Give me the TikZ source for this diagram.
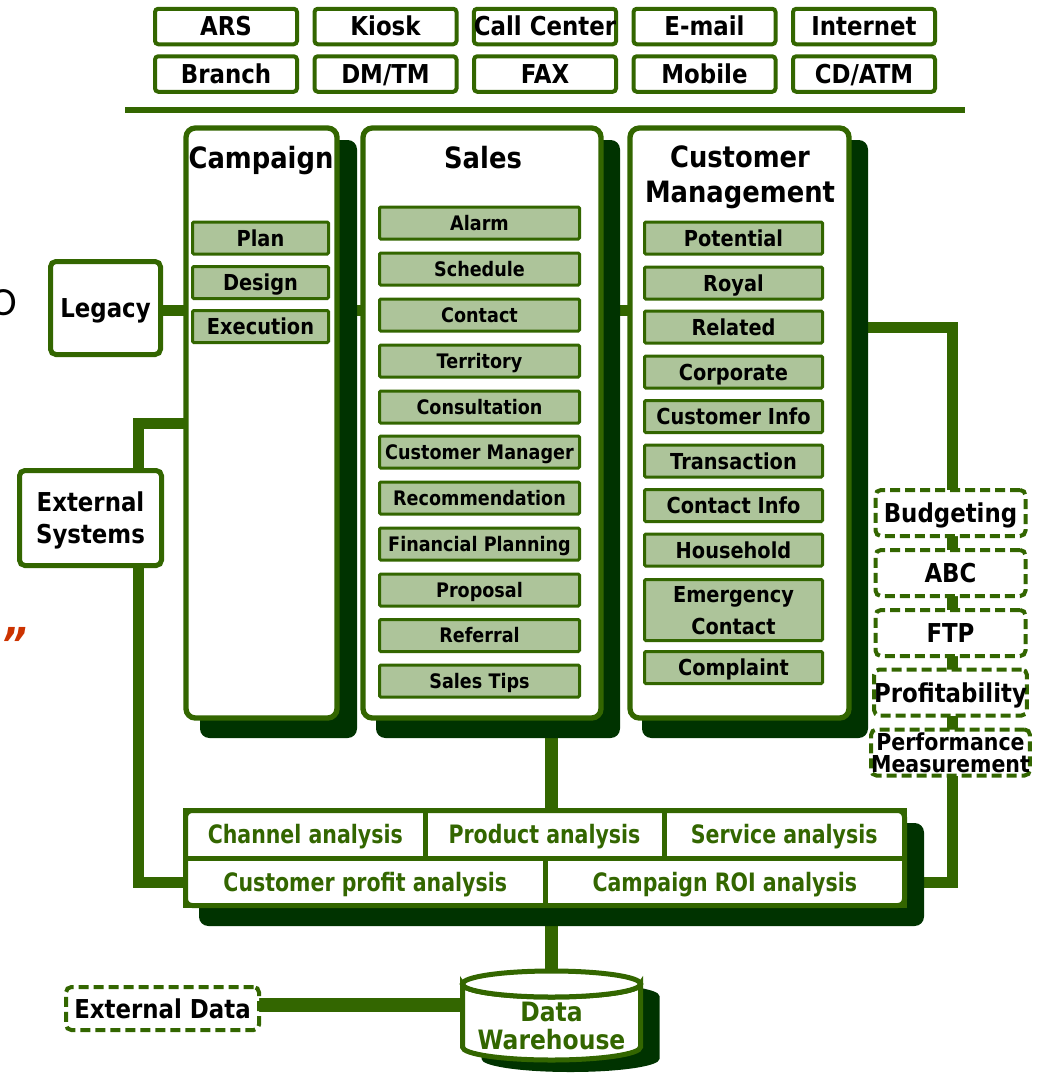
\documentclass[tikz,border=0pt]{standalone}
\usepackage{fontspec}
\setmainfont{DejaVu Sans}[FakeStretch=0.88]
\newfontfamily\anafont{DejaVu Sans}[FakeStretch=0.81]
\newfontfamily\calfont{Carlito}
\definecolor{gr}{HTML}{336600}
\definecolor{dk}{HTML}{003300}
\definecolor{lg}{HTML}{ADC49A}
\definecolor{orng}{HTML}{CC3300}
\pgfdeclarelayer{cn}
\pgfsetlayers{cn,main}
\begin{document}
\begin{tikzpicture}[x=0.75pt,y=-0.75pt,
  every node/.style={inner sep=0pt,outer sep=0pt},
  wh/.style 2 args={minimum width=#1*0.75pt,minimum height=#2*0.75pt},
  chan/.style={draw=gr,line width=3pt,rounded corners=2.5pt,fill=white,wh={142}{35.5},
    font=\bfseries\fontsize{19.5}{22}\selectfont,text height=14.2pt,text depth=0pt},
  col/.style={draw=gr,line width=4pt,rounded corners=7pt,fill=white},
  shad/.style={fill=dk,rounded corners=7pt},
  title/.style={anchor=base,font=\bfseries\fontsize{22}{26}\selectfont},
  item/.style={draw=gr,line width=2.25pt,fill=lg,rounded corners=1pt,text depth=0pt},
  sitem/.style={item,wh={200}{32},font=\bfseries\fontsize{15}{18}\selectfont,text height=10.9pt},
  citem/.style={item,wh={178}{32},font=\bfseries\fontsize{16.5}{19}\selectfont,text height=12pt},
  pitem/.style={item,wh={136}{32},font=\bfseries\fontsize{16.5}{19}\selectfont,text height=12pt},
  sys/.style={draw=gr,line width=3.75pt,rounded corners=4pt,fill=white,align=center,
    font=\bfseries\fontsize{19.5}{24}\selectfont,text depth=0pt},
  dbox/.style={draw=gr,line width=3pt,dash pattern=on 7.5pt off 3.75pt,rounded corners=4pt,
    fill=white,wh={150}{46},font=\bfseries\fontsize{19.5}{22}\selectfont,text depth=0pt,align=center},
  cell/.style={draw=gr,line width=3.75pt,fill=white,text=gr,
    font=\anafont\bfseries\fontsize{19}{22}\selectfont,text height=13.9pt,text depth=0pt},
  conn/.style={draw=gr,line width=8.25pt},
  tconn/.style={draw=gr,line width=10pt}
]
\useasboundingbox (0,0) rectangle (1039,1076);

% clipped fragments at the left edge
\node[anchor=east,font=\calfont\fontsize{30}{32}\selectfont,text height=19pt,text depth=0pt] (frO) at (17,302.5) {O};
\node[anchor=base,text=orng,font=\bfseries\itshape\fontsize{34}{38}\selectfont] (frQ) at (14,660) {”};

% channels
\node[chan] (ars) at (226,26.5) {ARS};
\node[chan] (kiosk) at (385.5,26.5) {Kiosk};
\node[chan] (call) at (545,26.5) {Call Center};
\node[chan] (email) at (704.5,26.5) {E-mail};
\node[chan] (inet) at (864,26.5) {Internet};
\node[chan] (branch) at (226,74) {Branch};
\node[chan] (dmtm) at (385.5,74) {DM/TM};
\node[chan] (fax) at (545,74) {FAX};
\node[chan] (mobile) at (704.5,74) {Mobile};
\node[chan] (cdatm) at (864,74) {CD/ATM};
\draw[gr,line width=4.5pt] (125,110) -- (965,110);

% column shadows and boxes
\node[shad,wh={157}{598}] (campsh) at (278.5,439) {};
\node[shad,wh={244}{598}] (salessh) at (498,439) {};
\node[shad,wh={226}{598}] (cmsh) at (755,439) {};
\node[col,wh={151}{590}] (camp) at (261.5,423) {};
\node[col,wh={238}{590}] (sales) at (482,423) {};
\node[col,wh={219}{590}] (cm) at (739.5,423) {};

\node[title] (tcamp) at (261,168) {Campaign};
\node[title] (tsales) at (483,168) {Sales};
\node[title] (tcm1) at (740,167) {Customer};
\node[title] (tcm2) at (740,202) {Management};

% campaign items
\node[pitem] (plan) at (260.5,238) {Plan};
\node[pitem] (design) at (260.5,282.5) {Design};
\node[pitem] (exec) at (260.5,326.5) {Execution};

% sales items
\node[sitem] (alarm) at (479.5,223) {Alarm};
\node[sitem] (sched) at (479.5,269) {Schedule};
\node[sitem] (contact) at (479.5,315) {Contact};
\node[sitem] (terr) at (479.5,361) {Territory};
\node[sitem] (consult) at (479.5,407) {Consultation};
\node[sitem] (custmgr) at (479.5,452) {Customer Manager};
\node[sitem] (recom) at (479.5,498) {Recommendation};
\node[sitem] (finplan) at (479.5,544) {Financial Planning};
\node[sitem] (prop) at (479.5,590) {Proposal};
\node[sitem] (refer) at (479.5,635.5) {Referral};
\node[sitem] (tips) at (479.5,681) {Sales Tips};

% customer management items
\node[citem] (pot) at (733.5,238) {Potential};
\node[citem] (royal) at (733.5,283) {Royal};
\node[citem] (rel) at (733.5,327) {Related};
\node[citem] (corp) at (733.5,372) {Corporate};
\node[citem] (cinfo) at (733.5,416.5) {Customer Info};
\node[citem] (trans) at (733.5,461) {Transaction};
\node[citem] (coninfo) at (733.5,505.5) {Contact Info};
\node[citem] (house) at (733.5,550) {Household};
\node[item,wh={178}{61},align=center,font=\bfseries\fontsize{16.5}{24}\selectfont] (emerg) at (733.5,610) {Emergency\\Contact};
\node[citem] (compl) at (733.5,667.5) {Complaint};

% side systems
\node[sys,wh={110}{93}] (legacy) at (105.5,308) {Legacy};
\node[sys,wh={142}{95}] (es) at (90.5,518) {External\\Systems};

% right dashed boxes
\node[dbox] (budget) at (950.5,513) {Budgeting};
\node[dbox] (abc) at (950.5,573) {ABC};
\node[dbox] (ftp) at (950.5,633) {FTP};
\node[dbox] (profit) at (950.5,692.5) {Profitability};
\node[dbox,font=\bfseries\fontsize{17.5}{16}\selectfont] (perf) at (950.5,752.5) {Performance\\Measurement};

% analysis block
\node[shad,wh={725}{103}] (anash) at (561.5,874.5) {};
\node[cell,wh={239.5}{47.5}] (chana) at (305.25,834.25) {Channel analysis};
\node[cell,wh={239}{47.5}] (proda) at (544.5,834.25) {Product analysis};
\node[cell,wh={240.5}{47.5}] (serva) at (784.25,834.25) {Service analysis};
\node[cell,wh={359.5}{47.5}] (custa) at (365.25,881.75) {Customer profit analysis};
\node[cell,wh={359.5}{47.5}] (roia) at (724.75,881.75) {Campaign ROI analysis};
\node[draw=gr,line width=3.75pt,rounded corners=5pt,wh={719}{95}] (ana) at (545,858) {};

% data warehouse
\fill[dk] (481.5,996) -- (481.5,1059) arc[start angle=180,end angle=0,x radius=89,y radius=13]
  -- (659.5,996) arc[start angle=0,end angle=-180,x radius=89,y radius=13] -- cycle;
\filldraw[draw=gr,fill=white,line width=3.75pt] (462.5,984) -- (462.5,1047)
  arc[start angle=180,end angle=0,x radius=89,y radius=13] -- (640.5,984)
  arc[start angle=0,end angle=180,x radius=89,y radius=13] -- cycle;
\filldraw[draw=gr,fill=white,line width=3.75pt] (551.5,984) ellipse[x radius=89,y radius=13];
\node[align=center,text=gr,font=\bfseries\fontsize{20}{21}\selectfont,text depth=0pt] (dw) at (551.5,1026) {Data\\Warehouse};
\coordinate (dwtop) at (551.5,971);
\coordinate (dwleft) at (462.5,1005);

\node[dbox,wh={193}{43}] (extd) at (162.5,1008.5) {External Data};

% connector bend points
\coordinate (ltop) at (138,423);
\coordinate (lbot) at (138,882.5);
\coordinate (rtop) at (952.5,327.5);
\coordinate (rbot) at (952.5,882.5);
\coordinate (bus) at (0,310.5);

\begin{pgfonlayer}{cn}
\draw[conn] (legacy.east |- bus) -- (cm.west |- bus);
\draw[conn] (camp.west |- ltop) -- (ltop) -- (ltop |- es.north);
\draw[conn] (ltop |- es.south) -- (lbot) -- (ana.west |- lbot);
\draw[conn] (cm.east |- rtop) -- (rtop) -- (rtop |- budget.north);
\draw[conn] (rtop |- budget.south) -- (rtop |- abc.north);
\draw[conn] (rtop |- abc.south) -- (rtop |- ftp.north);
\draw[conn] (rtop |- ftp.south) -- (rtop |- profit.north);
\draw[conn] (rtop |- profit.south) -- (rtop |- perf.north);
\draw[conn] (rtop |- perf.south) -- (rbot) -- (ana.east |- rbot);
\draw[tconn] (sales.south -| dwtop) -- (ana.north -| dwtop);
\draw[tconn] (ana.south -| dwtop) -- (dwtop);
\draw[tconn] (extd.east |- dwleft) -- (dwleft);
\end{pgfonlayer}
\end{tikzpicture}
\end{document}
